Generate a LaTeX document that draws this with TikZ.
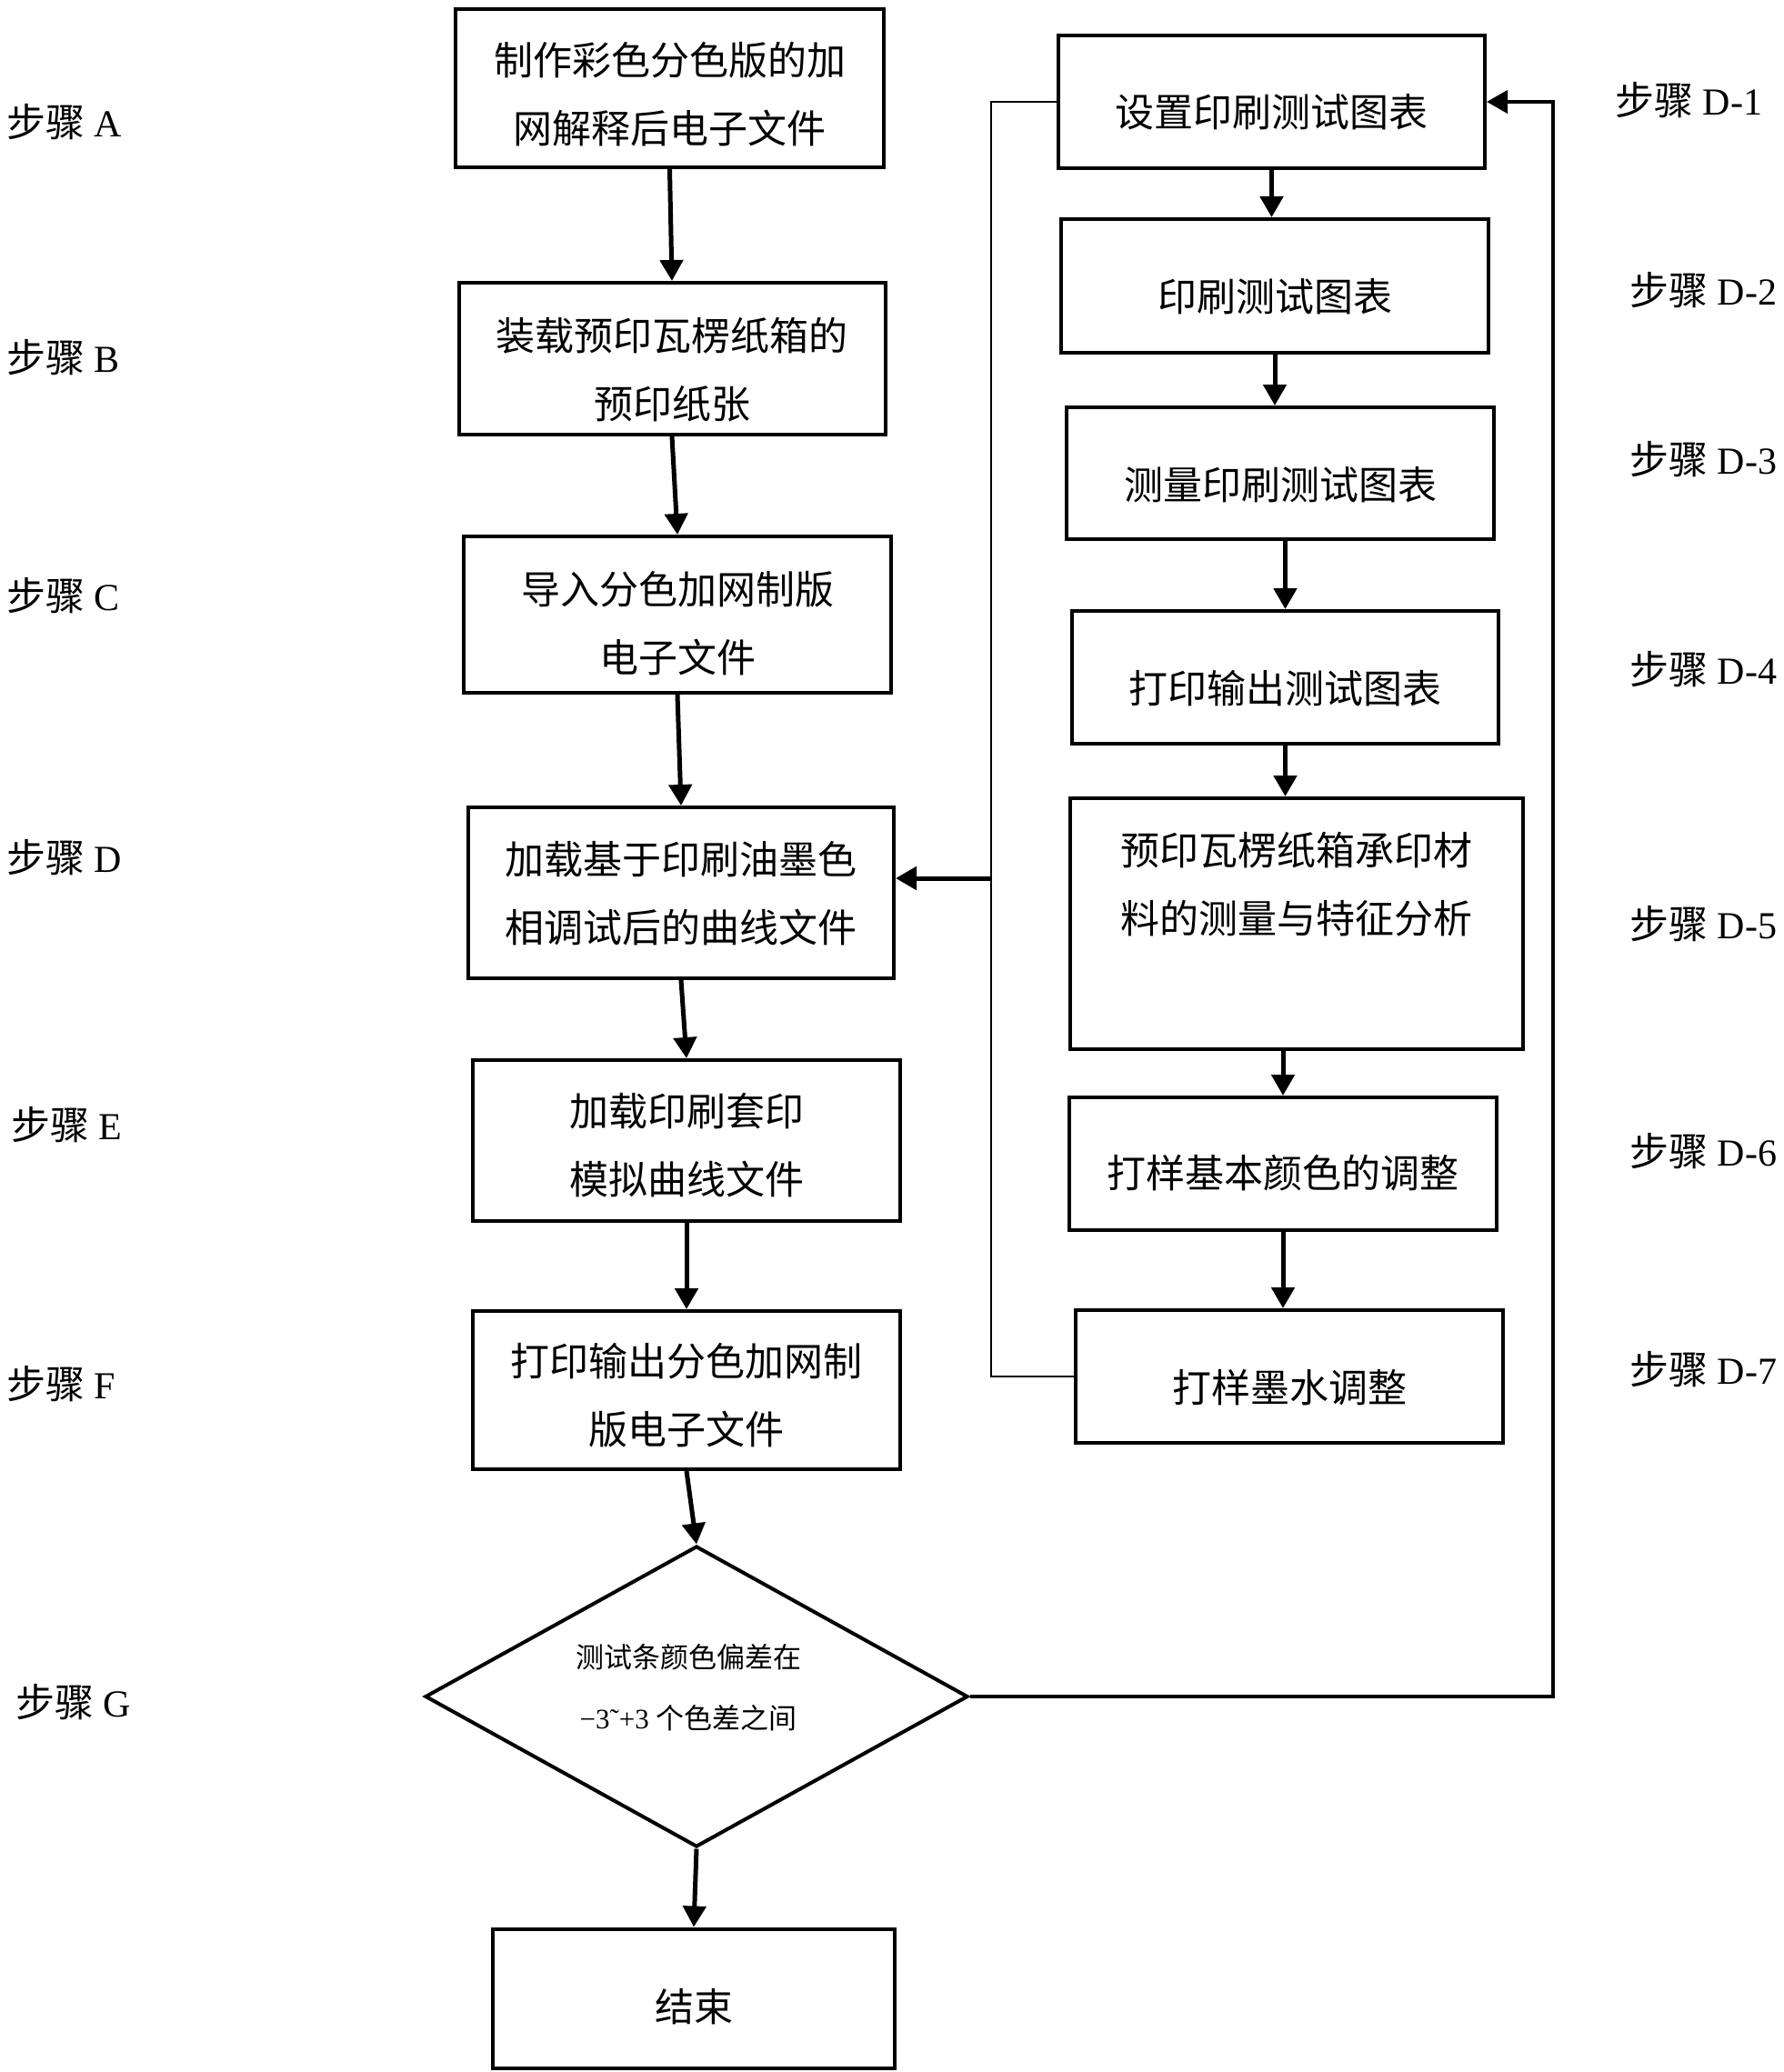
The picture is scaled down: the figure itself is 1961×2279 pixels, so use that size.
\documentclass[tikz,border=0pt]{standalone}
\usepackage{fontspec}
\setmainfont{Liberation Serif}
\newfontfamily\cjk{Noto Sans CJK SC}
\usetikzlibrary{arrows.meta,shapes.geometric}
\newcommand\stepzh{{\cjk\fontsize{21.5}{21.5}\selectfont 步骤}}
\newcommand\txtdown[1]{\rule{0pt}{\dimexpr19pt+#1pt*2\relax}}
\begin{document}
\begin{tikzpicture}[x=0.5pt,y=-0.5pt,
  bx/.style 2 args={draw, line width=2pt, inner sep=0pt, align=center,
    minimum width=#1*0.5pt, minimum height=#2*0.5pt,
    font=\cjk\fontsize{21.5}{37.5}\selectfont},
  arr/.style={line width=2.5pt, -{Triangle[length=11.5pt,width=12.5pt]}},
  bus/.style={line width=1pt},
  fb/.style={line width=2pt, -{Triangle[length=11.5pt,width=12.5pt]}},
  lab/.style={anchor=west, inner sep=0pt, font=\fontsize{21}{21}\selectfont}]
\useasboundingbox (0,0) rectangle (1961,2279);
% left column
\node[bx={471}{174}] (a) at (736.5,97) {\txtdown{2.9}制作彩色分色版的加\\网解释后电子文件};
\node[bx={469}{167}] (b) at (739,394.5) {\txtdown{5.5}装载预印瓦楞纸箱的\\预印纸张};
\node[bx={470}{172}] (c) at (745,676) {\txtdown{4.4}导入分色加网制版\\电子文件};
\node[bx={468}{188}] (d) at (749,982) {\txtdown{0}加载基于印刷油墨色\\相调试后的曲线文件};
\node[bx={470}{177}] (e) at (755,1254.5) {\txtdown{2.2}加载印刷套印\\模拟曲线文件};
\node[bx={470}{174}] (f) at (755,1529) {\txtdown{2.5}打印输出分色加网制\\版电子文件};
\node[diamond, draw, line width=2pt, inner sep=0pt, align=center, shape aspect=1.8,
  minimum width=298.5pt, minimum height=165.5pt,
  font=\fontsize{15.5}{33.5}\selectfont] (g) at (766,1866)
  {{\cjk 测试条颜色偏差在}\kern8.8pt\\−3˜+3 {\cjk 个色差之间}\kern8.8pt\rule[-10.7pt]{0pt}{0pt}};
\node[bx={442}{153}] (end) at (763,2198) {\txtdown{4}结束};
% right column
\node[bx={469}{146}] (d1) at (1398.5,112) {\txtdown{5.1}设置印刷测试图表};
\node[bx={470}{147}] (d2) at (1402,314.5) {\txtdown{5.5}印刷测试图表};
\node[bx={470}{145}] (d3) at (1408,520.5) {\txtdown{5.8}测量印刷测试图表};
\node[bx={469}{146}] (d4) at (1413.5,745) {\txtdown{5.5}打印输出测试图表};
\node[bx={498}{276}] (d5) at (1426,1016) {\txtdown{0}预印瓦楞纸箱承印材\\料的测量与特征分析\rule[-46.5pt]{0pt}{0pt}};
\node[bx={470}{146}] (d6) at (1411,1280) {\txtdown{4.7}打样基本颜色的调整};
\node[bx={470}{146}] (d7) at (1418,1514) {\txtdown{5.5}打样墨水调整};
% labels
\node[lab] (la) at (7,134) {\stepzh\ A};
\node[lab] (lb) at (7,393) {\stepzh\ B};
\node[lab] (lc) at (7,655) {\stepzh\ C};
\node[lab] (ld) at (7,943) {\stepzh\ D};
\node[lab] (le) at (12,1237) {\stepzh\ E};
\node[lab] (lf) at (7,1522) {\stepzh\ F};
\node[lab] (lg) at (17,1872) {\stepzh\ G};
\node[lab] (l1) at (1776,110) {\stepzh\ D-1};
\node[lab] (l2) at (1792,319) {\stepzh\ D-2};
\node[lab] (l3) at (1792,505) {\stepzh\ D-3};
\node[lab] (l4) at (1792,736) {\stepzh\ D-4};
\node[lab] (l5) at (1792,1016) {\stepzh\ D-5};
\node[lab] (l6) at (1792,1266) {\stepzh\ D-6};
\node[lab] (l7) at (1792,1506) {\stepzh\ D-7};
% arrows left
\draw[arr] (a.south) -- (b.north);
\draw[arr] (b.south) -- (c.north);
\draw[arr] (c.south) -- (d.north);
\draw[arr] (d.south) -- (e.north);
\draw[arr] (e.south) -- (f.north);
\draw[arr] (f.south) -- (g.north);
\draw[arr] (g.south) -- (end.north);
% arrows right
\draw[arr] (d1.south) -- (d1.south |- d2.north);
\draw[arr] (d2.south) -- (d2.south |- d3.north);
\draw[arr] (d3.south -| d4.north) -- (d4.north);
\draw[arr] (d4.south) -- (d4.south |- d5.north);
\draw[arr] (d5.south -| d6.north) -- (d6.north);
\draw[arr] (d6.south) -- (d6.south |- d7.north);
% bus
\coordinate (busx) at (1090,0);
\coordinate (dj) at (1090,966);
\draw[bus] (d1.west) -- (d1.west -| busx) -- (d7.west -| busx) -- (d7.west);
\draw[arr] (dj) -- (dj -| d.east);
% feedback
\coordinate (fbx) at (1708,0);
\draw[fb] (g.east) -- (g.east -| fbx) -- (d1.east -| fbx) -- (d1.east);
\end{tikzpicture}
\end{document}
